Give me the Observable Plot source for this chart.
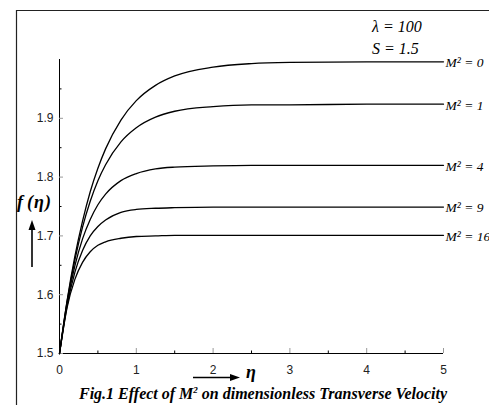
<!DOCTYPE html>
<html>
<head>
<meta charset="utf-8">
<script src="https://cdn.jsdelivr.net/npm/d3@7"></script>
<script src="https://cdn.jsdelivr.net/npm/@observablehq/plot@0.6"></script>
<style>
  html, body { margin: 0; padding: 0; background: #fff; }
  #fig { position: relative; width: 489px; height: 405px; overflow: hidden; }
  #fig svg { position: absolute; left: 0; top: 0; }
  #overlay { pointer-events: none; }
  .serif { font-family: "Liberation Serif", "Times New Roman", Times, serif; fill: #000; }
  .ann { font-style: italic; font-size: 16px; }
  .ylab { font-style: italic; font-weight: bold; font-size: 18px; }
  .xlab { font-style: italic; font-weight: bold; font-size: 18px; }
  .cap { font-style: italic; font-weight: bold; font-size: 16px; }
</style>
</head>
<body>
<div id="fig"></div>
<script>
// Dimensionless transverse velocity f(η) for several magnetic parameters M²
const eta  = [0, 0.1, 0.2, 0.3, 0.4, 0.5, 0.6, 0.8, 1, 1.25, 1.5, 2, 2.5, 3, 4, 5];
const fM0  = [1.5, 1.591, 1.665, 1.725, 1.775, 1.815, 1.848, 1.897, 1.930, 1.956, 1.972, 1.987, 1.993, 1.995, 1.996, 1.996];
const fM1  = [1.5, 1.589, 1.659, 1.715, 1.759, 1.794, 1.821, 1.860, 1.884, 1.902, 1.912, 1.920, 1.923, 1.923, 1.924, 1.924];
const fM4  = [1.5, 1.586, 1.649, 1.695, 1.728, 1.753, 1.771, 1.794, 1.806, 1.814, 1.817, 1.819, 1.820, 1.820, 1.820, 1.820];
const fM9  = [1.5, 1.582, 1.638, 1.675, 1.700, 1.716, 1.727, 1.740, 1.745, 1.747, 1.748, 1.749, 1.749, 1.749, 1.749, 1.749];
const fM16 = [1.5, 1.579, 1.626, 1.655, 1.673, 1.684, 1.690, 1.696, 1.699, 1.700, 1.701, 1.701, 1.701, 1.701, 1.701, 1.701];
const mSquared = [0, 1, 4, 9, 16];
const seriesValues = [fM0, fM1, fM4, fM9, fM16];

const xTicks = [0, 1, 2, 3, 4, 5];
const xMinorTicks = [0.5, 1.5, 2.5, 3.5, 4.5];
const yTicks = [1.5, 1.6, 1.7, 1.8, 1.9];
const yMinorTicks = [1.55, 1.65, 1.75, 1.85, 1.95];

// long-format rows for the line mark
const rows = mSquared.flatMap((m, i) => eta.map((e, j) => ({eta: e, f: seriesValues[i][j], m})));
// one label per curve, placed at the end of its line
const labels = mSquared.map((m, i) => ({eta: eta[eta.length - 1], f: seriesValues[i][eta.length - 1], text: `M² = ${m}`}));

const serifFont = '"Liberation Serif", "Times New Roman", Times, serif';

const chart = Plot.plot({
  width: 489,
  height: 405,
  marginLeft: 59,
  marginRight: 46,
  marginTop: 59,
  marginBottom: 52,
  x: {domain: [0, 5]},
  y: {domain: [1.5, 2.0]},
  style: {fontFamily: '"Liberation Sans", Arial, sans-serif', fontSize: "12px", color: "#222", background: "transparent"},
  marks: [
    // axis lines
    Plot.ruleX([0], {stroke: "#000", strokeWidth: 1}),
    Plot.ruleY([1.5], {stroke: "#000", strokeWidth: 1}),
    // inward ticks
    Plot.axisX(xTicks, {tickSize: -5, stroke: "#999", tickFormat: () => "", label: null}),
    Plot.axisX(xMinorTicks, {tickSize: -2.5, stroke: "#000", tickFormat: () => "", label: null}),
    Plot.axisY(yTicks, {tickSize: -4, stroke: "#999", tickFormat: () => "", label: null}),
    Plot.axisY(yMinorTicks, {tickSize: -2.5, stroke: "#000", tickFormat: () => "", label: null}),
    // tick labels
    Plot.axisX(xTicks, {tickSize: 0, tickPadding: 12, tickFormat: d => String(d), label: null, fill: "#222"}),
    Plot.axisY(yTicks, {tickSize: 0, tickPadding: 6, tickFormat: d => d.toFixed(1), label: null, fill: "#222"}),
    // curves
    Plot.line(rows, {x: "eta", y: "f", z: "m", stroke: "#000", strokeWidth: 1.3, curve: "monotone-x"}),
    // curve labels
    Plot.text(labels, {
      x: "eta", y: "f", text: "text", textAnchor: "start", dx: 2, dy: 1,
      fontFamily: serifFont, fontStyle: "italic", fontSize: 13.5, fill: "#000"
    })
  ]
});

const fig = document.getElementById("fig");
fig.appendChild(chart);

// frame, annotations, axis titles and caption
fig.insertAdjacentHTML("beforeend", `
<svg id="overlay" width="489" height="405" xmlns="http://www.w3.org/2000/svg">
  <path d="M16.5,406V10.5H490" fill="none" stroke="#222" stroke-width="1.2"/>
  <text class="serif ann" x="372" y="32">λ = 100</text>
  <text class="serif ann" x="372" y="54">S = 1.5</text>
  <text class="serif ylab" x="17" y="208">f<tspan dx="4">(</tspan><tspan dx="1">η</tspan><tspan dx="1">)</tspan></text>
  <line x1="32" y1="267" x2="32" y2="228" stroke="#000" stroke-width="1.6"/>
  <path d="M28.5,230L32,220L35.5,230Z" fill="#000"/>
  <line x1="193" y1="377.5" x2="232" y2="377.5" stroke="#000" stroke-width="1.6"/>
  <path d="M230,374L240,377.5L230,381Z" fill="#000"/>
  <text class="serif xlab" x="246" y="378">η</text>
  <text class="serif cap" x="263" y="399" text-anchor="middle">Fig.1 Effect of M<tspan font-size="9" dy="-6">2</tspan><tspan dy="6"> on dimensionless Transverse Velocity</tspan></text>
</svg>`);
</script>
</body>
</html>
